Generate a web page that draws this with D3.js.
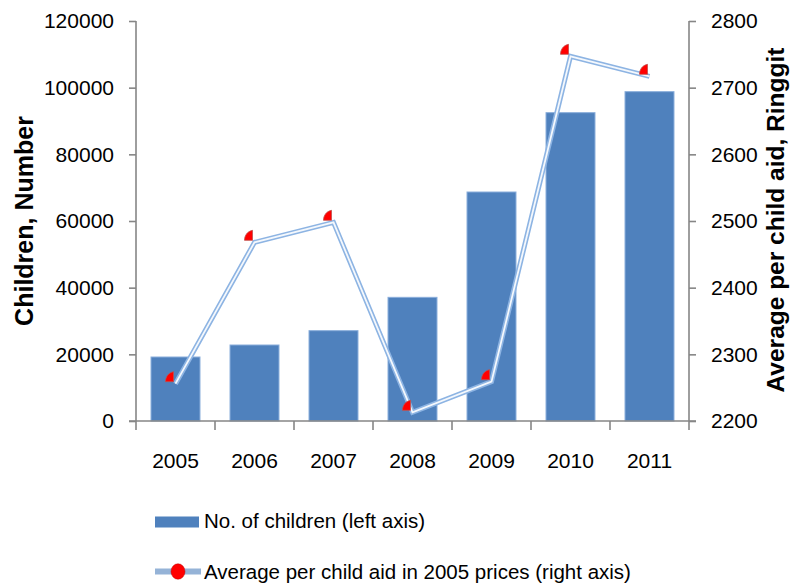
<!DOCTYPE html>
<html><head><meta charset="utf-8">
<script src="https://cdn.jsdelivr.net/npm/d3@7/dist/d3.min.js"></script>
<style>
html,body{margin:0;padding:0;background:#fff;overflow:hidden;}
svg{display:block;}
text{font-family:"Liberation Sans",Arial,sans-serif;fill:#000;}
</style></head>
<body>
<svg id="chart" width="790" height="584"></svg>
<script>
const years = ["2005","2006","2007","2008","2009","2010","2011"];
const children = [19200, 22800, 27100, 37100, 68700, 92500, 98800];
const aid = [2256, 2468, 2498, 2213, 2259, 2747, 2717];
const leftTicks = [0, 20000, 40000, 60000, 80000, 100000, 120000];
const rightTicks = [2200, 2300, 2400, 2500, 2600, 2700, 2800];
const leftTitle = "Children, Number";
const rightTitle = "Average per child aid, Ringgit";
const legendBar = "No. of children (left axis)";
const legendLine = "Average per child aid in 2005 prices (right axis)";

const svg = d3.select("#chart");
const L = 136, R = 689, T = 21, B = 421;
const axisColor = "#868686";

const x = d3.scaleBand().domain(years).range([L, R]).paddingInner(0.38).paddingOuter(0.19);
const yL = d3.scaleLinear().domain([0, 120000]).range([B, T]);
const yR = d3.scaleLinear().domain([2200, 2800]).range([B, T]);

// bars
svg.append("g").selectAll("rect").data(children).join("rect")
  .attr("x", (d,i) => x(years[i]))
  .attr("y", d => yL(d))
  .attr("width", x.bandwidth())
  .attr("height", d => B - yL(d))
  .attr("fill", "#4f81bd")
  .attr("stroke", "#8aaedb").attr("stroke-width", 1);

// left axis
const gL = svg.append("g").attr("transform", `translate(${L},0)`)
  .call(d3.axisLeft(yL).tickValues(leftTicks).tickSize(7).tickPadding(15).tickFormat(d3.format("d")));
// right axis
const gR = svg.append("g").attr("transform", `translate(${R},0)`)
  .call(d3.axisRight(yR).tickValues(rightTicks).tickSize(7).tickPadding(15).tickFormat(d3.format("d")));
[gL, gR].forEach(g => {
  g.select(".domain").remove();
  g.selectAll(".tick line").attr("stroke", axisColor).attr("stroke-width", 1.6);
  g.selectAll(".tick text").attr("font-size", 21).attr("font-family", "Liberation Sans, Arial, sans-serif").attr("fill", "#000");
});
svg.append("line").attr("x1", L).attr("x2", L).attr("y1", T).attr("y2", B).attr("stroke", axisColor).attr("stroke-width", 1.6);
svg.append("line").attr("x1", R).attr("x2", R).attr("y1", T).attr("y2", B).attr("stroke", axisColor).attr("stroke-width", 1.6);

// bottom axis
svg.append("line").attr("x1", L - 7).attr("x2", R + 7).attr("y1", B).attr("y2", B)
  .attr("stroke", axisColor).attr("stroke-width", 1.6);
const step = x.step();
const bounds = years.map(y => x(y) - step * x.paddingInner() / 2).concat([R]);
svg.append("g").selectAll("line").data(bounds).join("line")
  .attr("x1", d => d).attr("x2", d => d).attr("y1", B).attr("y2", B + 9)
  .attr("stroke", axisColor).attr("stroke-width", 1.6);
svg.append("g").selectAll("text").data(years).join("text")
  .attr("x", d => x(d) + x.bandwidth() / 2).attr("y", 468)
  .attr("text-anchor", "middle").attr("font-size", 21).text(d => d);

// line (double compound style)
const lineGen = d3.line().x((d,i) => x(years[i]) + x.bandwidth() / 2).y(d => yR(d));
svg.append("path").datum(aid).attr("d", lineGen).attr("fill", "none")
  .attr("stroke", "#8db4e3").attr("stroke-width", 5).attr("stroke-linejoin", "miter");
svg.append("path").datum(aid).attr("d", lineGen).attr("fill", "none")
  .attr("stroke", "#ffffff").attr("stroke-width", 1.8).attr("stroke-linejoin", "miter").attr("opacity", 0.9);

// markers (partially visible red circles)
svg.append("g").selectAll("path").data(aid).join("path")
  .attr("transform", (d,i) => `translate(${x(years[i]) + x.bandwidth() / 2},${yR(d)})`)
  .attr("d", "M-2,-2 L-10,-2 C-10,-7 -7,-11 -2,-12 Z")
  .attr("fill", "#ff0000").attr("stroke", "#c0504d").attr("stroke-width", 0.8);

// axis titles
svg.append("text").attr("transform", "translate(33,221) rotate(-90)")
  .attr("text-anchor", "middle").attr("font-size", 25).attr("font-weight", "bold").text(leftTitle);
svg.append("text").attr("transform", "translate(784,220) rotate(-90)")
  .attr("text-anchor", "middle").attr("font-size", 24.5).attr("font-weight", "bold").text(rightTitle);

// legend
svg.append("rect").attr("x", 155).attr("y", 516.5).attr("width", 44).attr("height", 11).attr("fill", "#4f81bd");
svg.append("text").attr("x", 204).attr("y", 528).attr("font-size", 20.5).text(legendBar);
svg.append("line").attr("x1", 155).attr("x2", 201).attr("y1", 571.5).attr("y2", 571.5)
  .attr("stroke", "#95b3d7").attr("stroke-width", 6);
svg.append("ellipse").attr("cx", 178).attr("cy", 571.5).attr("rx", 7).attr("ry", 7.7).attr("fill", "#ff0000").attr("stroke", "#c00000").attr("stroke-width", 0.5);
svg.append("text").attr("x", 204).attr("y", 579).attr("font-size", 20.5).text(legendLine);
</script>
</body></html>
